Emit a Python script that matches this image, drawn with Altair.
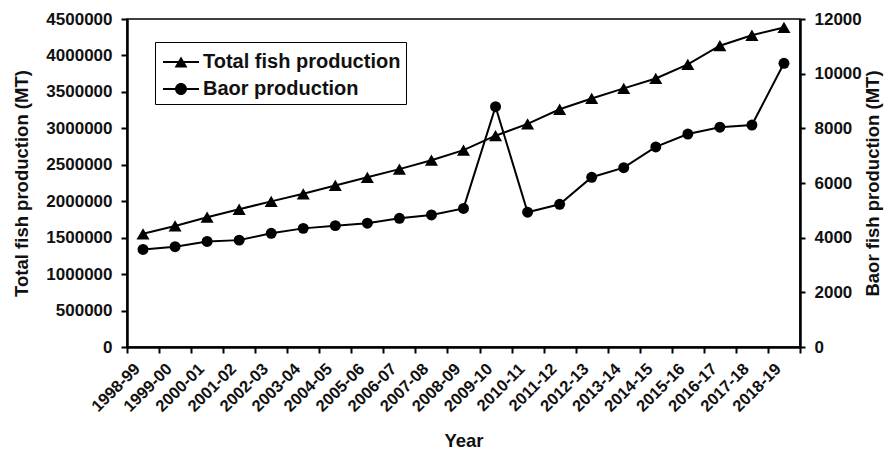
import altair as alt
import pandas as pd

years = ["1998-99", "1999-00", "2000-01", "2001-02", "2002-03", "2003-04", "2004-05",
         "2005-06", "2006-07", "2007-08", "2008-09", "2009-10", "2010-11", "2011-12",
         "2012-13", "2013-14", "2014-15", "2015-16", "2016-17", "2017-18", "2018-19"]
total = [1553000, 1661000, 1781000, 1890000, 1998000, 2102000, 2216000,
         2328000, 2440000, 2563000, 2701000, 2899000, 3062000, 3262000,
         3410000, 3548000, 3684000, 3878000, 4134000, 4277000, 4384000]
baor = [3570, 3670, 3860, 3910, 4160, 4340, 4440,
        4530, 4710, 4830, 5070, 8790, 4930, 5220,
        6210, 6560, 7320, 7790, 8040, 8120, 10380]
series_names = ["Total fish production", "Baor production"]
left_ticks = [0, 500000, 1000000, 1500000, 2000000, 2500000, 3000000, 3500000, 4000000, 4500000]
right_ticks = [0, 2000, 4000, 6000, 8000, 10000, 12000]

df = pd.DataFrame({"year": years, "total": total, "baor": baor})

FONT = "Liberation Sans"

x_enc = alt.X("year:N", sort=years,
              scale=alt.Scale(type="band", paddingInner=0, paddingOuter=0),
              axis=alt.Axis(title="Year", labelAngle=-45, labelAlign="right",
                            labelBaseline="middle", tickBand="extent",
                            labelFontSize=16.5, labelPadding=13, labelOffset=-6,
                            titleFontSize=18.5, titlePadding=17, tickSize=6))

y_left = alt.Y("total:Q", scale=alt.Scale(domain=[0, 4500000], nice=False),
               axis=alt.Axis(values=left_ticks, format="d", orient="left",
                             title="Total fish production (MT)", titlePadding=14,
                             tickSize=6, labelPadding=9))
y_right = alt.Y("baor:Q", scale=alt.Scale(domain=[0, 12000], nice=False),
                axis=alt.Axis(values=right_ticks, format="d", orient="right",
                              title="Baor fish production (MT)", titleAngle=270,
                              titlePadding=21, tickSize=5, labelPadding=9))

base = alt.Chart(df)

tri_path = ("M-0.8,-0.067L1.6,-0.067L1.6,0.067L-0.8,0.067Z"
            "M0.4,-0.37L0.83,0.37L-0.03,0.37Z")
circ_path = ("M-0.8,-0.067L1.6,-0.067L1.6,0.067L-0.8,0.067Z"
             "M0.8,0A0.4,0.4 0 1,1 0,0A0.4,0.4 0 1,1 0.8,0Z")

total_line = base.mark_line(color="black", strokeWidth=2).encode(x=x_enc, y=y_left)
total_pts = base.mark_point(shape="triangle-up", filled=True, color="black",
                            size=170, opacity=1).encode(x=x_enc, y=y_left)
legend_layer = base.mark_point(filled=True, color="black", opacity=1).encode(
    shape=alt.Shape("series:N",
                    scale=alt.Scale(domain=series_names, range=[tri_path, circ_path]),
                    legend=alt.Legend(title=None, orient="none", legendX=28, legendY=23,
                                      symbolSize=900, symbolStrokeWidth=0,
                                      symbolFillColor="black",
                                      symbolOpacity=1, labelFontSize=20,
                                      labelFont=FONT, labelFontWeight="bold",
                                      labelColor="#111", labelOffset=13, labelLimit=400,
                                      padding=5, rowPadding=2,
                                      strokeColor="black", fillColor="white"))
).transform_calculate(series="'Total fish production'").transform_filter("false")

baor_line = base.mark_line(color="black", strokeWidth=2).encode(x=x_enc, y=y_right)
baor_pts = base.mark_point(shape="circle", filled=True, color="black",
                           size=120, opacity=1).encode(x=x_enc, y=y_right)

left = alt.layer(total_line, total_pts, legend_layer)
right = alt.layer(baor_line, baor_pts)

chart = alt.layer(left, right).resolve_scale(y="independent").properties(
    width=673, height=328,
    autosize=alt.AutoSizeParams(type="none"),
    padding={"left": 119, "top": 11, "right": 85, "bottom": 103},
).configure_view(stroke="black", strokeWidth=1.5).configure_axis(
    grid=False, domainColor="black", domainWidth=2.5, tickColor="black", tickWidth=2,
    labelFont=FONT, labelFontWeight="bold", labelColor="#111", labelFontSize=17,
    titleFont=FONT, titleFontWeight="bold", titleColor="#111", titleFontSize=18.5,
)

chart.save("out.html", embed_options={"renderer": "svg", "actions": False})
